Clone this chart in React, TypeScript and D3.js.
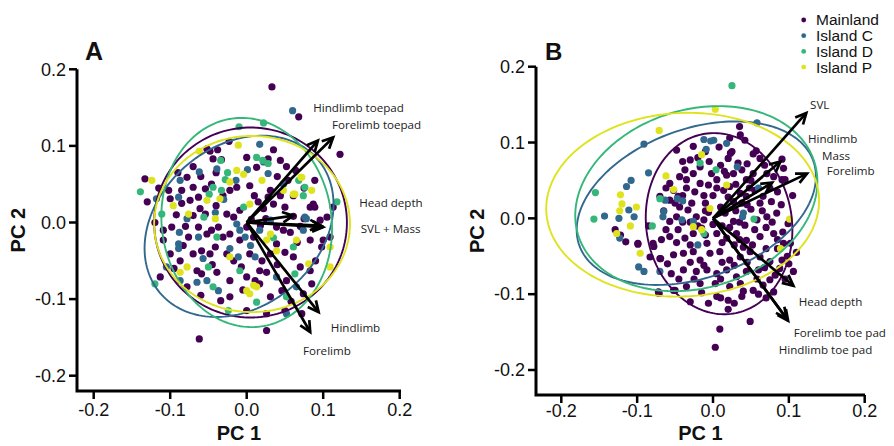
import React from 'react'
import * as d3 from 'd3'

// groups + colours (viridis, 4 levels)
const groups = ['Mainland', 'Island C', 'Island D', 'Island P']
const colors = ['#440154', '#31688e', '#35b779', '#dfe31d']
const ticks = [-0.2, -0.1, 0.0, 0.1, 0.2]

// ---- panel A scores (PC1, PC2) ----
const mainlandA = [
  [0.033,0.177],[0.068,0.138],[0.122,0.089],[-0.023,0.106],[-0.048,0.093],[-0.038,0.095],[-0.044,0.083],[-0.033,0.082],
  [0.035,0.095],[0.028,0.083],[0.044,0.081],[0.052,0.073],[0.064,0.068],[-0.070,0.073],[-0.078,0.059],[-0.070,0.046],
  [-0.046,0.050],[-0.054,0.044],[-0.063,0.033],[-0.031,0.035],[-0.022,0.042],[-0.013,0.046],[0.004,0.048],[0.054,0.055],
  [0.061,0.035],[0.044,0.035],[0.031,0.042],[0.089,0.055],[-0.133,0.057],[-0.130,0.027],[-0.100,0.031],[-0.085,0.042],
  [-0.074,0.029],[-0.061,0.018],[-0.070,0.009],[-0.054,0.011],[-0.026,0.011],[-0.009,0.016],[-0.017,0.007],[0.015,0.027],
  [0.022,0.018],[0.028,0.033],[0.035,0.024],[0.083,0.020],[0.089,0.020],[0.096,0.003],[0.105,0.007],[0.113,0.020],
  [-0.098,-0.006],[-0.109,-0.010],[-0.109,-0.023],[-0.076,-0.019],[-0.063,-0.006],[-0.052,-0.015],[-0.046,-0.010],[-0.037,-0.006],
  [-0.031,-0.019],[-0.022,-0.015],[0.039,-0.006],[0.048,-0.010],[0.057,-0.013],[0.083,-0.023],[0.100,-0.023],[0.098,-0.032],
  [0.039,-0.028],[-0.100,-0.041],[-0.087,-0.050],[-0.070,-0.041],[-0.059,-0.037],[-0.048,-0.041],[-0.041,-0.032],[-0.026,-0.041],
  [-0.017,-0.050],[-0.007,-0.058],[0.004,-0.041],[0.020,-0.050],[0.031,-0.041],[0.050,-0.039],[0.061,-0.045],[0.070,-0.058],
  [-0.113,-0.071],[-0.065,-0.063],[-0.059,-0.067],[-0.039,-0.065],[-0.078,-0.084],[-0.022,-0.076],[0.000,-0.071],[0.017,-0.063],
  [0.026,-0.065],[0.011,-0.076],[0.017,-0.080],[0.031,-0.097],[0.046,-0.089],[0.052,-0.076],[0.074,-0.093],[0.085,-0.080],
  [-0.022,-0.097],[0.026,-0.119],[0.026,-0.141],[-0.062,-0.152],[0.072,-0.119],[0.109,-0.019],[-0.009,-0.023],[0.009,-0.019],
  [0.000,-0.006],[-0.102,0.042],[0.013,0.072],[0.087,0.024],[0.083,-0.063],[-0.092,0.010],[-0.083,-0.030],[0.066,-0.026],
  [0.075,0.005],[-0.005,-0.088],[-0.034,-0.102],[0.058,-0.103],[0.006,0.004],[0.018,-0.004],[0.061,0.008],[-0.052,0.096],
  [-0.090,0.065],[-0.060,0.060],[-0.040,0.065],[0.000,0.085],[0.040,0.060],[0.075,0.045],[-0.115,0.045],[-0.085,0.025],
  [-0.040,0.022],[0.010,0.035],[0.050,0.020],[-0.120,0.000],[-0.080,-0.005],[0.025,0.005],[0.070,-0.005],[-0.095,-0.060],
  [-0.045,-0.055],[0.040,-0.055],[0.090,-0.050],[-0.060,-0.095],[0.000,-0.115],[0.050,-0.115],
]
const islandCA = [
  [0.060,0.146],[0.017,0.102],[0.001,0.069],[0.022,0.079],[-0.039,0.070],[-0.062,0.066],[-0.087,0.055],[-0.014,0.055],
  [0.028,0.064],[0.048,0.050],[-0.089,0.033],[-0.118,0.031],[-0.078,0.005],[-0.041,0.013],[-0.013,-0.002],[0.078,0.005],
  [-0.088,-0.013],[-0.089,-0.028],[-0.063,-0.019],[-0.009,-0.010],[-0.002,-0.019],[0.074,-0.010],[-0.089,-0.034],[-0.057,-0.047],
  [-0.022,-0.034],[-0.011,-0.045],[0.011,-0.045],[-0.105,-0.058],[-0.087,-0.076],[-0.052,-0.076],[-0.065,-0.078],[0.039,-0.071],
  [0.065,-0.084],[-0.037,-0.089],[0.052,-0.119],[0.017,-0.010],[0.031,0.003],[0.076,0.007],[-0.030,0.030],[0.005,-0.030],
]
const islandDA = [
  [0.022,0.130],[-0.010,0.125],[-0.034,0.081],[0.021,0.081],[-0.025,0.065],[0.068,0.055],[0.076,0.046],[-0.049,0.037],
  [-0.033,0.042],[-0.028,0.056],[-0.139,0.040],[-0.111,0.011],[-0.004,0.020],[0.074,0.035],[0.118,0.027],[0.061,-0.032],
  [-0.120,-0.080],[-0.009,-0.063],[0.013,-0.104],[-0.024,-0.115],[-0.044,-0.084],[-0.050,-0.058],[0.052,-0.097],[0.063,-0.067],
  [-0.039,-0.019],[-0.056,0.007],[-0.044,0.046],[0.013,0.085],[0.028,0.077],[0.035,-0.020],
]
const islandPA = [
  [-0.011,0.101],[-0.062,0.093],[-0.013,0.068],[-0.004,0.063],[0.020,0.055],[0.071,0.059],[0.048,0.042],[0.063,0.037],
  [0.085,0.042],[-0.124,0.055],[-0.052,0.029],[-0.035,0.031],[-0.022,0.053],[0.004,0.024],[-0.096,0.022],[-0.076,0.011],
  [-0.041,0.005],[0.089,-0.006],[0.026,-0.023],[0.031,-0.015],[0.065,-0.023],[0.109,-0.032],[0.039,-0.037],[0.081,-0.054],
  [-0.078,-0.058],[-0.087,-0.065],[0.009,-0.082],[0.004,-0.093],[0.000,-0.089],[0.109,-0.058],[0.072,0.059],[0.061,0.037],
  [-0.022,-0.045],[0.013,-0.084],
]

// ---- panel B scores ----
const mainlandB = [
  [0.035,0.121],[0.042,0.103],[0.022,0.106],[-0.026,0.095],[-0.048,0.090],[0.025,0.088],[0.057,0.089],[0.062,0.079],
  [0.033,0.073],[0.020,0.079],[-0.030,0.077],[-0.037,0.064],[-0.044,0.055],[-0.035,0.051],[-0.026,0.059],[-0.017,0.068],
  [-0.002,0.059],[0.005,0.051],[0.018,0.057],[0.027,0.059],[0.038,0.064],[0.044,0.051],[0.053,0.059],[0.071,0.059],
  [0.080,0.055],[0.091,0.051],[0.093,0.066],[-0.057,0.046],[-0.052,0.037],[-0.046,0.029],[-0.057,0.024],[-0.070,0.029],
  [-0.035,0.040],[-0.024,0.035],[-0.017,0.046],[-0.006,0.044],[0.014,0.037],[0.022,0.042],[0.036,0.033],[0.044,0.029],
  [0.055,0.037],[0.066,0.029],[0.077,0.022],[0.062,0.020],[0.038,0.020],[0.027,0.022],[-0.044,0.015],[-0.033,0.011],
  [-0.022,0.002],[-0.048,0.002],[-0.057,-0.004],[0.016,0.007],[0.027,-0.004],[0.042,-0.009],[0.058,-0.002],[0.071,0.002],
  [0.084,0.007],[0.099,-0.007],[-0.079,-0.033],[-0.057,-0.024],[-0.046,-0.015],[-0.037,-0.026],[-0.026,-0.020],[-0.015,-0.013],
  [-0.008,-0.033],[0.005,-0.020],[0.018,-0.026],[0.031,-0.020],[0.044,-0.029],[0.062,-0.024],[0.080,-0.020],[0.093,-0.033],
  [0.102,-0.033],[-0.099,-0.033],[-0.070,-0.053],[-0.052,-0.048],[-0.039,-0.046],[-0.026,-0.044],[-0.017,-0.055],[-0.004,-0.046],
  [0.009,-0.044],[0.022,-0.055],[0.036,-0.051],[0.049,-0.044],[0.062,-0.051],[0.075,-0.057],[0.091,-0.055],[-0.055,-0.073],
  [-0.039,-0.068],[-0.022,-0.070],[-0.008,-0.068],[0.005,-0.073],[0.018,-0.068],[0.031,-0.077],[0.044,-0.070],[0.060,-0.068],
  [0.075,-0.081],[0.106,-0.070],[0.088,-0.066],[-0.050,-0.095],[-0.035,-0.090],[-0.017,-0.086],[0.003,-0.086],[0.022,-0.090],
  [0.036,-0.086],[0.053,-0.095],[0.066,-0.088],[-0.006,-0.112],[0.005,-0.103],[0.010,-0.105],[0.020,-0.108],[0.038,-0.103],
  [0.049,-0.136],[0.009,-0.146],[0.003,-0.170],[-0.072,-0.097],[-0.129,-0.015],[-0.122,-0.022],[-0.115,-0.031],[-0.099,-0.034],
  [-0.083,-0.051],[-0.078,-0.037],[-0.071,-0.099],[-0.052,-0.095],[-0.069,-0.053],[0.036,0.110],[0.023,0.086],[0.053,0.085],
  [0.091,0.078],[0.095,0.051],[0.010,0.015],[-0.010,0.020],[0.000,0.030],[0.030,0.010],[-0.012,-0.002],[0.050,0.012],
  [0.012,-0.010],[-0.030,-0.005],[0.070,-0.012],[0.085,-0.040],[0.040,-0.038],[-0.006,0.008],[0.015,0.062],[-0.010,0.088],
  [0.008,0.094],[0.048,0.040],[-0.065,0.010],[-0.062,-0.015],[-0.085,-0.010],[0.028,-0.035],[0.058,-0.080],[0.020,-0.120],
  [-0.030,-0.110],[0.070,-0.105],[0.080,-0.097],[0.098,-0.050],[0.105,0.030],[0.085,0.035],
  [-0.040,0.075],[-0.020,0.080],[-0.005,0.075],[0.010,0.070],[0.045,0.072],[0.068,0.070],[-0.062,0.040],[-0.040,0.030],
  [-0.012,0.030],[0.005,0.040],[0.030,0.045],[0.050,0.050],[0.075,0.040],[-0.050,0.020],[-0.028,0.020],[-0.010,0.010],
  [0.020,0.028],[0.045,0.018],[0.065,0.010],[0.090,0.018],[-0.040,-0.005],[-0.020,-0.010],[0.000,-0.008],[0.022,-0.012],
  [0.035,-0.005],[0.055,-0.015],[0.078,-0.005],[0.092,-0.018],[-0.068,-0.028],[-0.048,-0.032],[-0.030,-0.035],[-0.010,-0.022],
  [0.012,-0.032],[0.035,-0.028],[0.052,-0.035],[0.070,-0.040],[0.085,-0.028],[-0.060,-0.060],[-0.030,-0.058],[-0.012,-0.062],
  [0.012,-0.058],[0.028,-0.062],[0.045,-0.058],[0.068,-0.065],[0.082,-0.075],[0.095,-0.080],[-0.045,-0.080],[-0.025,-0.080],
  [0.010,-0.080],[0.040,-0.096],[0.060,-0.100],[-0.015,-0.098],[0.028,-0.112],[0.100,-0.060],[0.110,-0.045],
]
const islandCB = [
  [0.058,0.126],[-0.091,0.098],[-0.085,0.060],[-0.108,0.050],[-0.114,0.042],[-0.143,0.003],[-0.124,0.000],[-0.111,0.011],
  [-0.104,0.002],[-0.123,-0.026],[-0.098,-0.064],[-0.091,-0.070],[-0.065,0.009],[0.001,0.103],[0.018,0.099],[-0.012,0.104],
  [-0.047,0.026],[-0.040,0.023],[-0.063,0.024],[-0.041,-0.002],[-0.026,-0.004],[0.040,0.007],[0.032,0.068],[-0.003,0.102],
  [-0.009,0.091],[-0.066,0.002],[0.039,0.002],[-0.070,-0.070],[0.060,0.040],[-0.020,-0.035],
]
const islandDB = [
  [0.025,0.175],[-0.155,0.034],[-0.157,-0.001],[-0.070,0.026],[-0.080,-0.010],[0.004,0.064],[-0.017,0.073],[0.054,-0.001],
  [-0.012,-0.020],
]
const islandPB = [
  [0.003,0.144],[-0.071,0.116],[-0.015,0.084],[-0.062,0.056],[-0.052,0.038],[0.018,0.044],[-0.004,0.013],[-0.026,-0.011],
  [-0.015,-0.015],[0.101,-0.001],[0.089,-0.040],[-0.122,0.031],[-0.120,0.019],[-0.123,0.010],[-0.101,0.015],[-0.109,-0.010],
  [-0.127,-0.020],[-0.096,-0.046],
]

// 95% ellipses: centre x, centre y, semi-axis a, semi-axis b, angle of a (deg)
const ellipsesA = [
  [0.005, 0.000, 0.126, 0.124, 0],
  [-0.010, -0.005, 0.135, 0.105, 40],
  [0.000, 0.000, 0.137, 0.111, 98],
  [0.007, -0.002, 0.128, 0.115, 0],
]
const ellipsesB = [
  [0.008, -0.007, 0.120, 0.096, 99],
  [-0.022, 0.020, 0.164, 0.098, 20],
  [-0.022, 0.026, 0.163, 0.1175, 17],
  [-0.040, 0.018, 0.180, 0.121, 3],
]

// loadings
const loadNamesA = ['Hindlimb toepad', 'Forelimb toepad', 'Head depth', 'SVL', 'Mass', 'Hindlimb', 'Forelimb']
const loadPC1A = [0.093, 0.113, 0.061, 0.100, 0.097, 0.094, 0.083]
const loadPC2A = [0.107, 0.111, 0.009, -0.006, -0.004, -0.117, -0.143]
const loadNamesB = ['SVL', 'Hindlimb', 'Mass', 'Forelimb', 'Head depth', 'Forelimb toe pad', 'Hindlimb toe pad']
const loadPC1B = [0.123, 0.089, 0.078, 0.124, 0.106, 0.097, 0.099]
const loadPC2B = [0.139, 0.075, 0.047, 0.059, -0.089, -0.132, -0.135]

// arrow labels: text, x (start), y (middle) in PC units
const labelsA: [string, number, number][] = [
  ['Hindlimb toepad', 0.087, 0.149],
  ['Forelimb toepad', 0.1115, 0.127],
  ['Head depth', 0.147, 0.025],
  ['SVL + Mass', 0.149, -0.009],
  ['Hindlimb', 0.110, -0.137],
  ['Forelimb', 0.0735, -0.168],
]
const labelsB: [string, number, number][] = [
  ['SVL', 0.128, 0.149],
  ['Hindlimb', 0.1253, 0.1046],
  ['Mass', 0.1438, 0.0826],
  ['Forelimb', 0.150, 0.0624],
  ['Head depth', 0.113, -0.110],
  ['Forelimb toe pad', 0.1065, -0.1515],
  ['Hindlimb toe pad', 0.0867, -0.1735],
]

const W = 894
const H = 446
const sans = 'Liberation Sans, Arial, sans-serif'

function ellipsePoints(e: number[]) {
  const [cx, cy, a, b, deg] = e
  const th = (deg * Math.PI) / 180
  return d3.range(0, 2 * Math.PI, Math.PI / 90).map((t) => [
    cx + a * Math.cos(th) * Math.cos(t) - b * Math.sin(th) * Math.sin(t),
    cy + a * Math.sin(th) * Math.cos(t) + b * Math.cos(th) * Math.sin(t),
  ])
}

function Panel(props: any) {
  const { letter, xRange, yRange, left, bottom, right, top, series, ellipses, names, pc1, pc2, labels, titleY, tickBase } = props
  const x = d3.scaleLinear().domain([-0.2, 0.2]).range(xRange)
  const y = d3.scaleLinear().domain([-0.2, 0.2]).range(yRange)
  const line = d3.line<number[]>().x((d) => x(d[0])).y((d) => y(d[1])).curve(d3.curveLinearClosed)
  const midX = (left + right) / 2
  const midY = (top + bottom) / 2

  return (
    <g>
      {/* points */}
      {series.map((pts: number[][], gi: number) => (
        <g key={gi} fill={colors[gi]}>
          {pts.map((p, i) => <circle key={i} cx={x(p[0])} cy={y(p[1])} r={3.6} />)}
        </g>
      ))}
      {/* ellipses */}
      {ellipses.map((e: number[], gi: number) => (
        <path key={gi} d={line(ellipsePoints(e)) || ''} fill="none" stroke={colors[gi]} strokeWidth={1.9} />
      ))}
      {/* loading arrows */}
      {names.map((n: string, i: number) => {
        const x1 = x(0), y1 = y(0), x2 = x(pc1[i]), y2 = y(pc2[i])
        const ang = Math.atan2(y2 - y1, x2 - x1)
        const L = 12, s = 0.45
        const h1 = [x2 - L * Math.cos(ang - s), y2 - L * Math.sin(ang - s)]
        const h2 = [x2 - L * Math.cos(ang + s), y2 - L * Math.sin(ang + s)]
        return (
          <g key={n + i} stroke="#000" strokeWidth={2.7} fill="none" strokeLinejoin="miter">
            <line x1={x1} y1={y1} x2={x2} y2={y2} />
            <path d={`M${h1[0]},${h1[1]}L${x2},${y2}L${h2[0]},${h2[1]}`} />
          </g>
        )
      })}
      {labels.map((l: [string, number, number]) => (
        <text key={l[0]} x={x(l[1])} y={y(l[2])} dy="0.35em" fontFamily="Open Sans, sans-serif" fontSize={11.6} fill="#222">
          {l[0]}
        </text>
      ))}
      {/* axes */}
      <path d={`M${left},${top}V${bottom}H${right}`} fill="none" stroke="#000" strokeWidth={3} />
      {ticks.map((t) => (
        <g key={'y' + t}>
          <line x1={left - 8} x2={left} y1={y(t)} y2={y(t)} stroke="#000" strokeWidth={2.5} />
          <text x={left - 11} y={y(t)} dy="0.35em" textAnchor="end" fontFamily={sans} fontSize={18} fill="#111">
            {t.toFixed(1)}
          </text>
        </g>
      ))}
      {ticks.map((t) => (
        <g key={'x' + t}>
          <line x1={x(t)} x2={x(t)} y1={bottom} y2={bottom + 8} stroke="#000" strokeWidth={2.5} />
          <text x={x(t)} y={bottom + tickBase} textAnchor="middle" fontFamily={sans} fontSize={18} fill="#111">
            {t.toFixed(1)}
          </text>
        </g>
      ))}
      <text x={midX} y={titleY} textAnchor="middle" fontFamily={sans} fontWeight="bold" fontSize={20} fill="#111">PC 1</text>
      <text transform={`translate(${props.pc2X},${midY}) rotate(-90)`} textAnchor="middle" fontFamily={sans} fontWeight="bold" fontSize={20} fill="#111">PC 2</text>
      <text x={props.letterX} y={60} fontFamily={sans} fontWeight="bold" fontSize={props.letterSize} fill="#111">{letter}</text>
    </g>
  )
}

export default function App() {
  return (
    <svg width={W} height={H} style={{ position: 'absolute', left: 0, top: 0, background: '#fff' }}>
      <rect width={W} height={H} fill="#fff" />
      <Panel
        letter="A" letterX={85} letterSize={25}
        xRange={[93.7, 399.7]} yRange={[375.7, 69.3]}
        left={77} bottom={391} right={401} top={69.3}
        series={[mainlandA, islandCA, islandDA, islandPA]}
        ellipses={ellipsesA}
        names={loadNamesA} pc1={loadPC1A} pc2={loadPC2A}
        labels={labelsA}
        titleY={440} tickBase={25} pc2X={25}
      />
      <Panel
        letter="B" letterX={545} letterSize={24}
        xRange={[561.3, 864.7]} yRange={[370, 66.7]}
        left={536} bottom={395} right={865} top={66.7}
        series={[mainlandB, islandCB, islandDB, islandPB]}
        ellipses={ellipsesB}
        names={loadNamesB} pc1={loadPC1B} pc2={loadPC2B}
        labels={labelsB}
        titleY={440} tickBase={22} pc2X={484}
      />
      {/* legend */}
      {groups.map((g, i) => (
        <g key={g}>
          <circle cx={803.7} cy={20 + i * 15.7} r={2.4} fill={colors[i]} />
          <text x={816} y={20 + i * 15.7} dy="0.35em" fontFamily={sans} fontSize={15.5} fill="#111">{g}</text>
        </g>
      ))}
    </svg>
  )
}
